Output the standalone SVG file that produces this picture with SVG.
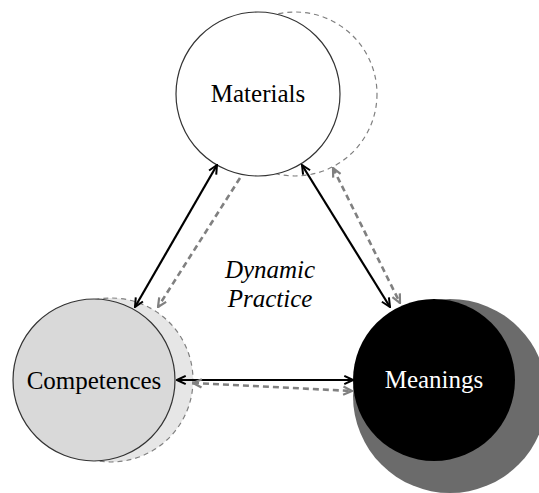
<svg xmlns="http://www.w3.org/2000/svg" width="539" height="493" viewBox="0 0 539 493">
<style>
.lbl{font-family:"Liberation Serif","Times New Roman",serif;font-size:25px;text-anchor:middle}
.solid{stroke:#000;stroke-width:2.2;fill:none}
.dash{stroke:#808080;stroke-width:2.6;stroke-dasharray:6 4;fill:none}
.ghost{stroke:#808080;stroke-width:1.2;stroke-dasharray:5 4}
</style>
<defs>
<marker id="ab" viewBox="0 0 12 12" refX="11" refY="6" markerWidth="11" markerHeight="11" markerUnits="userSpaceOnUse" orient="auto-start-reverse">
<path d="M1.5,1.5 L11,6 L1.5,10.5" fill="none" stroke="#000" stroke-width="2.2"/>
</marker>
<marker id="ag" viewBox="0 0 12 12" refX="11" refY="6" markerWidth="11" markerHeight="11" markerUnits="userSpaceOnUse" orient="auto-start-reverse">
<path d="M1.5,1.5 L11,6 L1.5,10.5" fill="none" stroke="#808080" stroke-width="2.4"/>
</marker>
</defs>
<rect width="539" height="493" fill="#fff"/>
<g id="materials">
<circle cx="295" cy="94" r="82" fill="#fff" class="ghost"/>
<circle cx="258" cy="94" r="82" fill="#fff" stroke="#333" stroke-width="1.2"/>
<text x="258" y="102" class="lbl">Materials</text>
</g>
<g id="competences">
<circle cx="111" cy="380" r="82" fill="#e6e6e6" class="ghost"/>
<circle cx="94" cy="380" r="81" fill="#d9d9d9" stroke="#333" stroke-width="1.2"/>
<text x="94" y="389" class="lbl">Competences</text>
</g>
<g id="meanings">
<circle cx="450" cy="396" r="97" fill="#6b6b6b"/>
<circle cx="434" cy="380" r="81" fill="#000"/>
<text x="434" y="388" class="lbl" fill="#fff">Meanings</text>
</g>
<g id="practice">
<text x="270" y="278" class="lbl" font-style="italic">Dynamic</text>
<text x="270" y="307" class="lbl" font-style="italic">Practice</text>
</g>
<g id="connectors">
<line x1="217" y1="165" x2="135" y2="307" class="solid" marker-start="url(#ab)" marker-end="url(#ab)"/>
<line x1="240" y1="178" x2="158" y2="307" class="dash" marker-end="url(#ag)"/>
<line x1="302" y1="165" x2="390" y2="307" class="solid" marker-start="url(#ab)" marker-end="url(#ab)"/>
<line x1="333" y1="168" x2="400" y2="303" class="dash" marker-start="url(#ag)" marker-end="url(#ag)"/>
<line x1="177" y1="380" x2="353" y2="380" class="solid" marker-start="url(#ab)" marker-end="url(#ab)"/>
<line x1="193" y1="383" x2="352" y2="391" class="dash" marker-start="url(#ag)" marker-end="url(#ag)"/>
</g>
</svg>
